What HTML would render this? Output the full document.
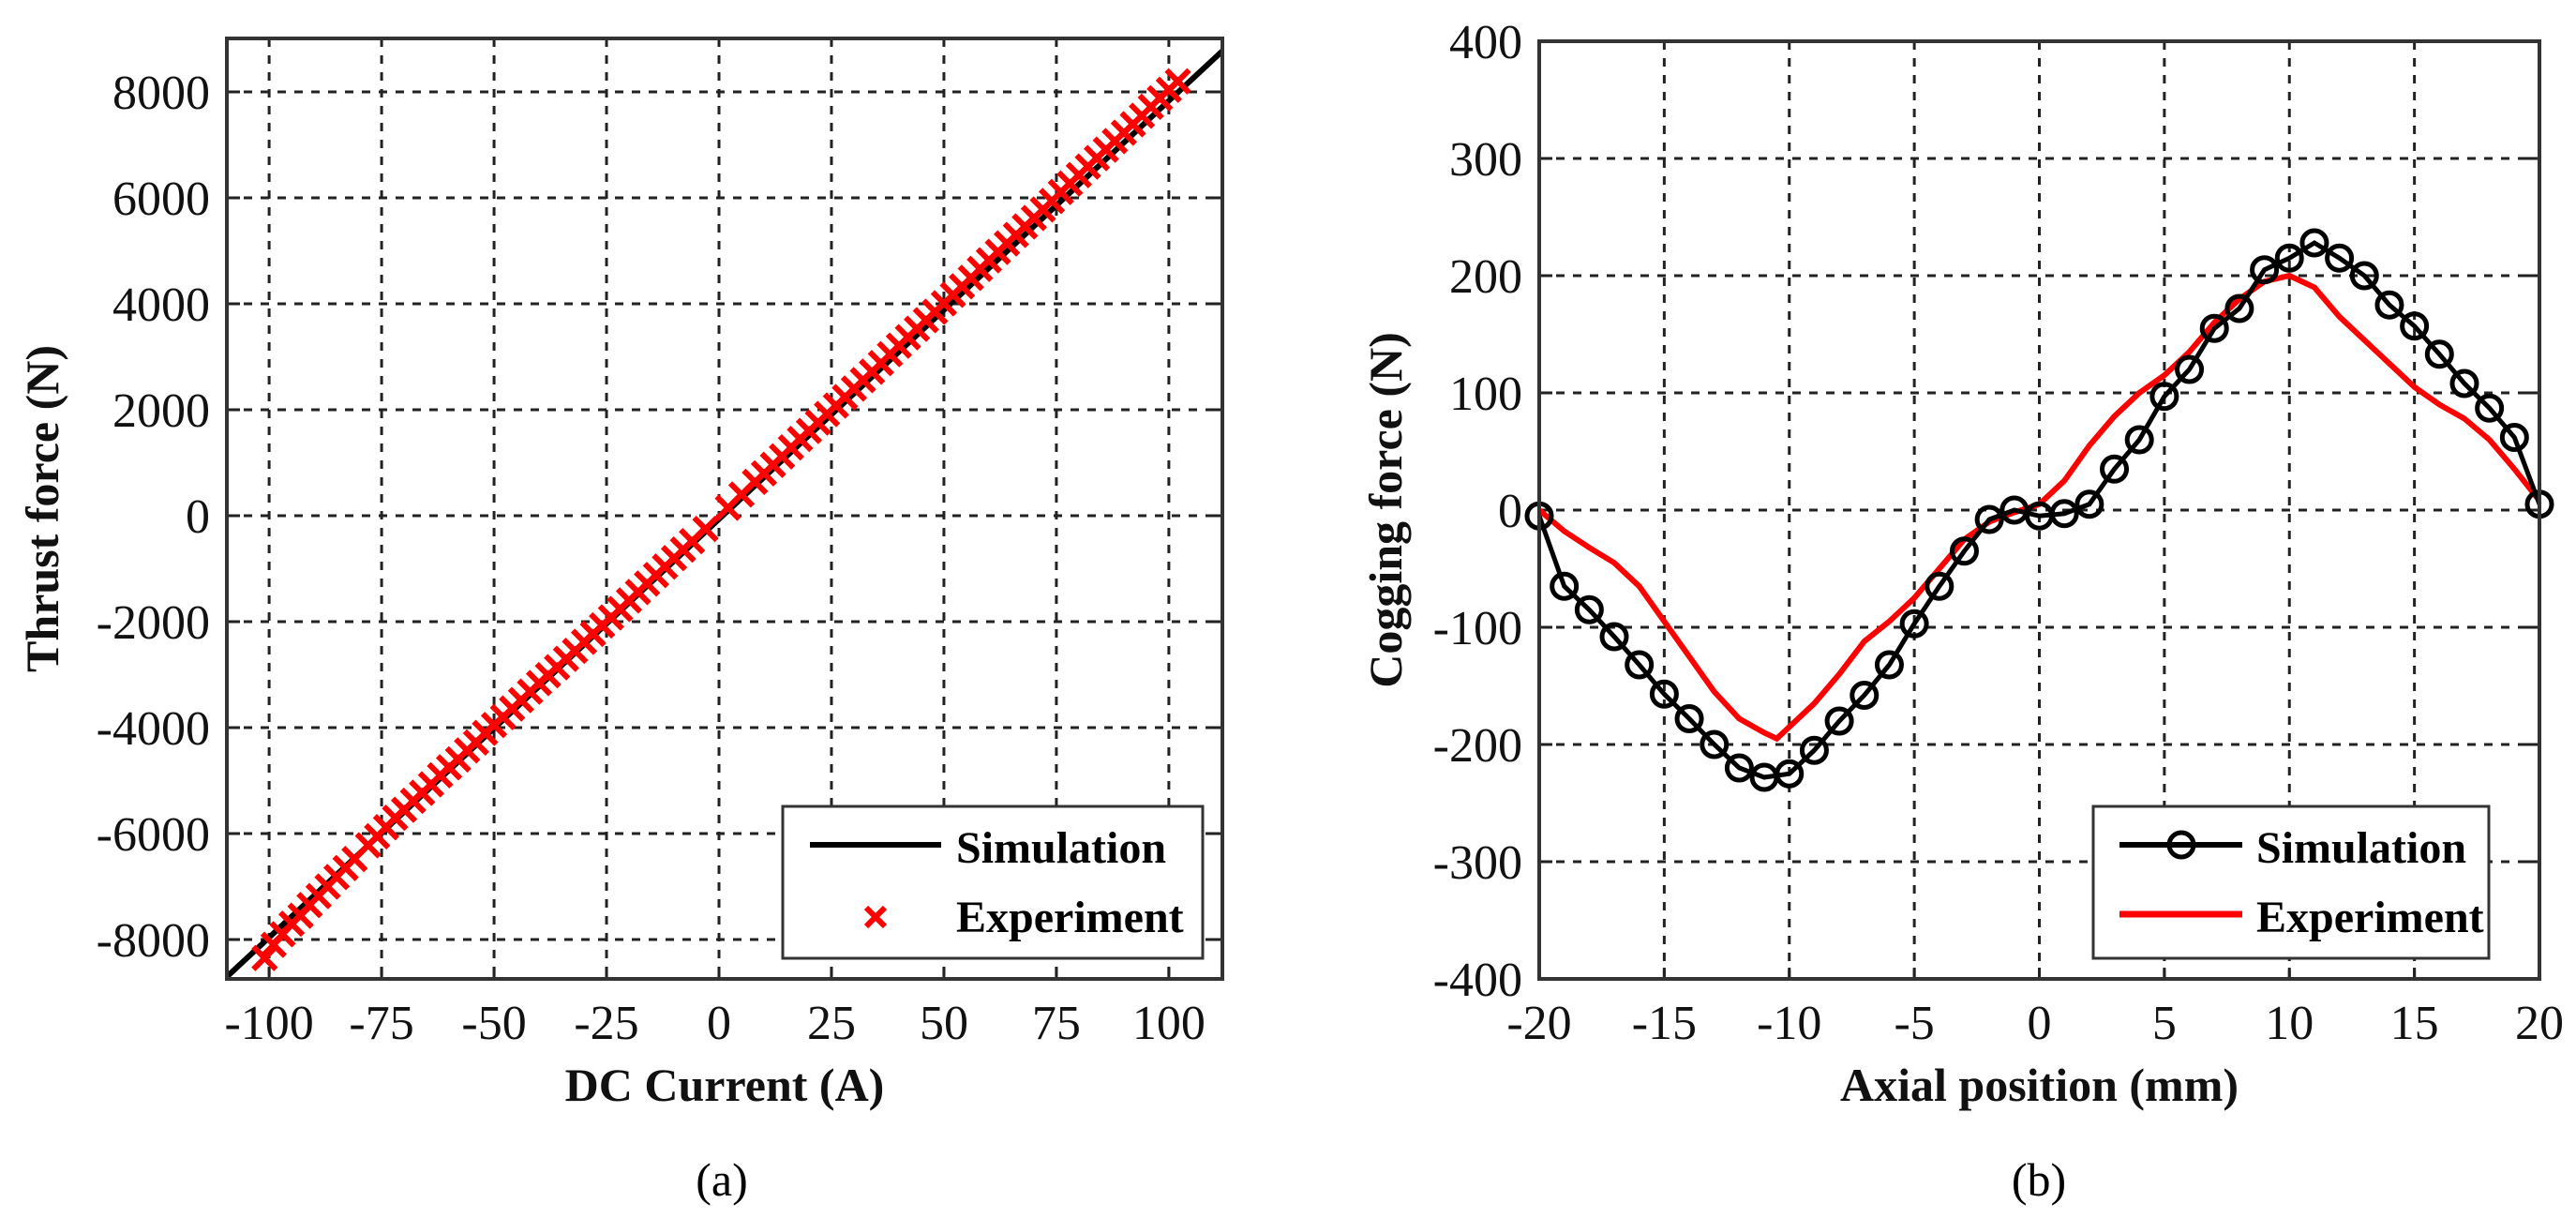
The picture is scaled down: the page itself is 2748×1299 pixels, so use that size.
<!DOCTYPE html>
<html><head><meta charset="utf-8"><style>
html,body{margin:0;padding:0;background:#fff;}
svg{display:block;font-family:"Liberation Serif",serif;}
</style></head><body>
<svg id="fig" width="2748" height="1299" viewBox="0 0 2748 1299">
<g id="pa"></g>
<g id="pb"></g>
<text x="770" y="1275" font-size="50" text-anchor="middle">(a)</text>
<text x="2175" y="1275" font-size="50" text-anchor="middle">(b)</text>
</svg>
<script>
// ---- chart (a) data ----
const aXTicks=[-100,-75,-50,-25,0,25,50,75,100];
const aYTicks=[-8000,-6000,-4000,-2000,0,2000,4000,6000,8000];
const aSimX=[-110,112];
const aSimY=[-8750,8780];
const aExpX=[-101,-99,-97,-95,-93,-91,-89,-87,-85,-83,-81,-78,-76,-74,-72,-70,-68,-66,-64,-62,-60,-58,-56,-54,-52,-50,-48,-46,-44,-42,-40,-38,-36,-34,-32,-30,-28,-26,-24,-22,-20,-18,-16,-14,-12,-10,-8,-6,-3,2,5,8,10,12,14,16,18,20,22,24,26,28,30,32,34,36,38,40,42,44,46,48,50,52,54,56,58,60,62,64,66,68,70,72,74,76,78,80,82,84,86,88,90,92,94,96,98,100,102];
const aExpY=[-8350,-8100,-7900,-7700,-7550,-7350,-7180,-7000,-6820,-6650,-6480,-6220,-6050,-5880,-5700,-5550,-5380,-5230,-5070,-4900,-4750,-4600,-4430,-4280,-4100,-3950,-3800,-3640,-3480,-3320,-3160,-3010,-2860,-2700,-2550,-2380,-2230,-2070,-1920,-1760,-1600,-1440,-1280,-1120,-960,-800,-640,-480,-250,150,400,640,800,960,1120,1290,1450,1600,1760,1920,2080,2240,2400,2560,2720,2880,3050,3210,3370,3530,3690,3850,4010,4170,4330,4490,4660,4820,4980,5140,5300,5460,5620,5780,5940,6110,6270,6430,6590,6750,6910,7070,7230,7390,7550,7720,7880,8040,8200];
// ---- chart (b) data ----
const bXTicks=[-20,-15,-10,-5,0,5,10,15,20];
const bYTicks=[-400,-300,-200,-100,0,100,200,300,400];
const bSimX=[-20,-19,-18,-17,-16,-15,-14,-13,-12,-11,-10,-9,-8,-7,-6,-5,-4,-3,-2,-1,0,1,2,3,4,5,6,7,8,9,10,11,12,13,14,15,16,17,18,19,20];
const bSimY=[-5,-65,-85,-108,-132,-157,-178,-200,-220,-228,-225,-205,-180,-158,-132,-97,-65,-35,-8,0,-5,-3,5,35,60,97,120,155,172,205,215,228,215,200,175,157,133,108,87,62,5];
const bExpX=[-20,-19,-18,-17,-16,-15,-14,-13,-12,-11,-10.5,-10,-9,-8,-7,-6,-5,-4,-3,-2,-1,0,1,2,3,4,5,6,7,8,9,10,11,12,13,14,15,16,17,18,19,20];
const bExpY=[0,-18,-32,-45,-65,-95,-125,-155,-178,-190,-195,-185,-165,-140,-112,-95,-75,-50,-25,-10,-2,5,25,55,80,100,115,135,160,180,195,200,190,165,145,125,105,90,78,60,35,8];

const NS='http://www.w3.org/2000/svg';
function mk(parent,tag,attrs){const e=document.createElementNS(NS,tag);for(const k in attrs)e.setAttribute(k,attrs[k]);parent.appendChild(e);return e;}

function axes(g,L,R,T,B,xmin,xmax,ymin,ymax,xt,yt,xlab,ylab,ylx){
  const sx=v=>L+(v-xmin)/(xmax-xmin)*(R-L);
  const sy=v=>B-(v-ymin)/(ymax-ymin)*(B-T);
  xt.forEach(v=>{
    const l=mk(g,'line',{x1:sx(v),x2:sx(v),y1:T,y2:B,stroke:'#222','stroke-width':3,'stroke-dasharray':'9,9'});
    
    
    mk(g,'line',{x1:sx(v),x2:sx(v),y1:B,y2:B-12,stroke:'#222','stroke-width':3});
    const t=mk(g,'text',{x:sx(v),y:B+64,'font-size':52,'text-anchor':'middle',fill:'#111'});
    t.textContent=String(v);
    
    
  });
  yt.forEach(v=>{
    const l=mk(g,'line',{x1:L,x2:R,y1:sy(v),y2:sy(v),stroke:'#222','stroke-width':3,'stroke-dasharray':'9,9'});
    
    
    mk(g,'line',{x1:L,x2:L+14,y1:sy(v),y2:sy(v),stroke:'#222','stroke-width':3});
    mk(g,'line',{x1:R,x2:R-14,y1:sy(v),y2:sy(v),stroke:'#222','stroke-width':3});
    const t=mk(g,'text',{x:L-18,y:sy(v)+18,'font-size':52,'text-anchor':'end',fill:'#111'});
    t.textContent=String(v);
    
    
  });
  const xl=mk(g,'text',{x:(L+R)/2,y:B+130,'font-size':50,'font-weight':'bold','text-anchor':'middle',fill:'#111'});
  xl.textContent=xlab;
  
  
  const yl=mk(g,'text',{x:ylx,y:(T+B)/2,'font-size':50,'font-weight':'bold','text-anchor':'middle',fill:'#111',transform:`rotate(-90 ${ylx} ${(T+B)/2})`,dy:17});
  yl.textContent=ylab;
  
  
  return {sx,sy};
}
function frame(g,L,R,T,B){
  const f=mk(g,'rect',{x:L,y:T,width:R-L,height:B-T,fill:'none',stroke:'#333','stroke-width':4});
  
  
}

// chart a
(function(){
  const g=document.getElementById('pa');
  const L=242,R=1304,T=41,B=1044;
  const {sx,sy}=axes(g,L,R,T,B,-109.4,111.9,-8743,9009,aXTicks,aYTicks,'DC Current (A)','Thrust force (N)',45);
  const cp=mk(g,'clipPath',{id:'ca'});mk(cp,'rect',{x:L,y:T,width:R-L,height:B-T});
  const dg=mk(g,'g',{'clip-path':'url(#ca)'});
  const sim=mk(dg,'polyline',{points:aSimX.map((x,i)=>sx(x)+','+sy(aSimY[i])).join(' '),fill:'none',stroke:'#000','stroke-width':6});
  
  
  aExpX.forEach((x,i)=>{
    const cx=sx(x),cy=sy(aExpY[i]),d=12;
    const p=mk(dg,'path',{d:`M${cx-d},${cy-d}L${cx+d},${cy+d}M${cx-d},${cy+d}L${cx+d},${cy-d}`,stroke:'#ff0000','stroke-width':6,fill:'none'});
    
    
  });
  frame(g,L,R,T,B);
  const lg=mk(g,'g',{});
  
  
  mk(lg,'rect',{x:835,y:860,width:448,height:162,fill:'#fff',stroke:'#333','stroke-width':3});
  mk(lg,'line',{x1:864,x2:1004,y1:901,y2:901,stroke:'#000','stroke-width':6});
  const c=934,cy=978,d=10;
  mk(lg,'path',{d:`M${c-d},${cy-d}L${c+d},${cy+d}M${c-d},${cy+d}L${c+d},${cy-d}`,stroke:'#ff0000','stroke-width':6});
  const t1=mk(lg,'text',{x:1020,y:920,'font-size':48,'font-weight':'bold'});t1.textContent='Simulation';
  
  
  const t2=mk(lg,'text',{x:1020,y:994,'font-size':48,'font-weight':'bold'});t2.textContent='Experiment';
  
  
})();

// chart b
(function(){
  const g=document.getElementById('pb');
  const L=1642,R=2709,T=44,B=1044;
  const {sx,sy}=axes(g,L,R,T,B,-20,20,-400,400,bXTicks,bYTicks,'Axial position (mm)','Cogging force (N)',1478);
  const exp=mk(g,'polyline',{points:bExpX.map((x,i)=>sx(x)+','+sy(bExpY[i])).join(' '),fill:'none',stroke:'#ff0000','stroke-width':6});
  
  
  const sim=mk(g,'polyline',{points:bSimX.map((x,i)=>sx(x)+','+sy(bSimY[i])).join(' '),fill:'none',stroke:'#000','stroke-width':5});
  
  
  bSimX.forEach((x,i)=>{
    const c=mk(g,'circle',{cx:sx(x),cy:sy(bSimY[i]),r:13,fill:'none',stroke:'#000','stroke-width':5});
    
    
  });
  frame(g,L,R,T,B);
  const lg=mk(g,'g',{});
  
  
  mk(lg,'rect',{x:2233,y:860,width:422,height:162,fill:'#fff',stroke:'#333','stroke-width':3});
  mk(lg,'line',{x1:2261,x2:2392,y1:901,y2:901,stroke:'#000','stroke-width':6});
  mk(lg,'circle',{cx:2327,cy:901,r:13,fill:'none',stroke:'#000','stroke-width':5});
  mk(lg,'line',{x1:2261,x2:2392,y1:975,y2:975,stroke:'#ff0000','stroke-width':7});
  const t1=mk(lg,'text',{x:2407,y:920,'font-size':48,'font-weight':'bold'});t1.textContent='Simulation';
  
  
  const t2=mk(lg,'text',{x:2407,y:994,'font-size':48,'font-weight':'bold'});t2.textContent='Experiment';
  
  
})();
</script>
</body></html>
